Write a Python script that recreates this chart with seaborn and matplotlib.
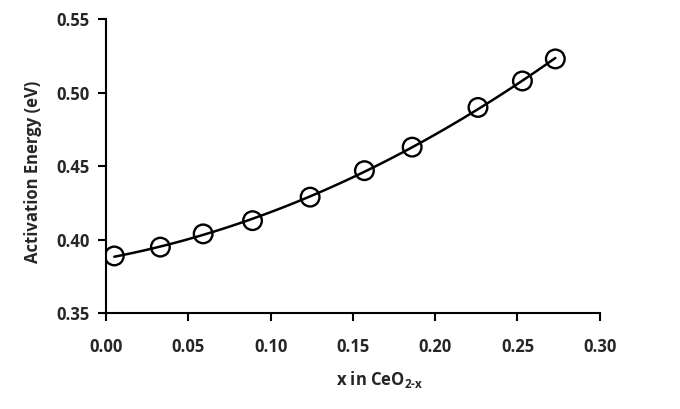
import numpy as np
import pandas as pd
import matplotlib
matplotlib.use("Agg")
import matplotlib.pyplot as plt
import seaborn as sns

# values
x_values = [0.005, 0.033, 0.059, 0.089, 0.124, 0.157, 0.186, 0.226, 0.253, 0.273]
energy = [0.389, 0.395, 0.404, 0.413, 0.429, 0.447, 0.463, 0.490, 0.508, 0.523]
x_ticks = [0.00, 0.05, 0.10, 0.15, 0.20, 0.25, 0.30]
y_ticks = [0.35, 0.40, 0.45, 0.50, 0.55]

data = pd.DataFrame({"x": x_values, "Ea": energy})

sns.set_style("white")
plt.rcParams["font.family"] = ["Open Sans", "DejaVu Sans"]
plt.rcParams["font.weight"] = "bold"
plt.rcParams["mathtext.fontset"] = "custom"
plt.rcParams["mathtext.rm"] = "Open Sans:bold"
plt.rcParams["mathtext.bf"] = "Open Sans:bold"

fig = plt.figure(figsize=(6.8, 4.09), dpi=100)
ax = fig.add_axes([0.156, 0.234, 0.726, 0.719])

# second-order trend line fitted by seaborn
sns.regplot(data=data, x="x", y="Ea", order=2, ci=None, scatter=False,
            line_kws={"color": "black", "lw": 1.8}, ax=ax)
sns.scatterplot(data=data, x="x", y="Ea", ax=ax, s=180, marker="o",
                facecolor="none", edgecolor="black", linewidth=1.7, zorder=3)

ax.set_xlim(0, 0.30)
ax.set_ylim(0.35, 0.55)
ax.set_xticks(x_ticks)
ax.set_yticks(y_ticks)
ax.set_xticklabels([f"{t:.2f}" for t in x_ticks], fontsize=12, fontweight="bold")
ax.set_yticklabels([f"{t:.2f}" for t in y_ticks], fontsize=12, fontweight="bold")
ax.tick_params(axis="x", direction="out", length=6, width=1.5, color="black",
               pad=12, bottom=True)
ax.tick_params(axis="y", direction="out", length=6, width=1.5, color="black",
               pad=6, left=True)

for side in ["top", "right"]:
    ax.spines[side].set_visible(False)
for side in ["left", "bottom"]:
    ax.spines[side].set_color("black")
    ax.spines[side].set_linewidth(1.5)

ax.set_xlabel(r"x in CeO$_{\mathrm{2\text{-}x}}$", fontsize=12, fontweight="bold")
ax.set_ylabel("Activation Energy (eV)", fontsize=12, fontweight="bold")
ax.xaxis.set_label_coords(0.553, -0.19)
ax.yaxis.set_label_coords(-0.13, 0.48)

fig.savefig("out.png", dpi=100)
